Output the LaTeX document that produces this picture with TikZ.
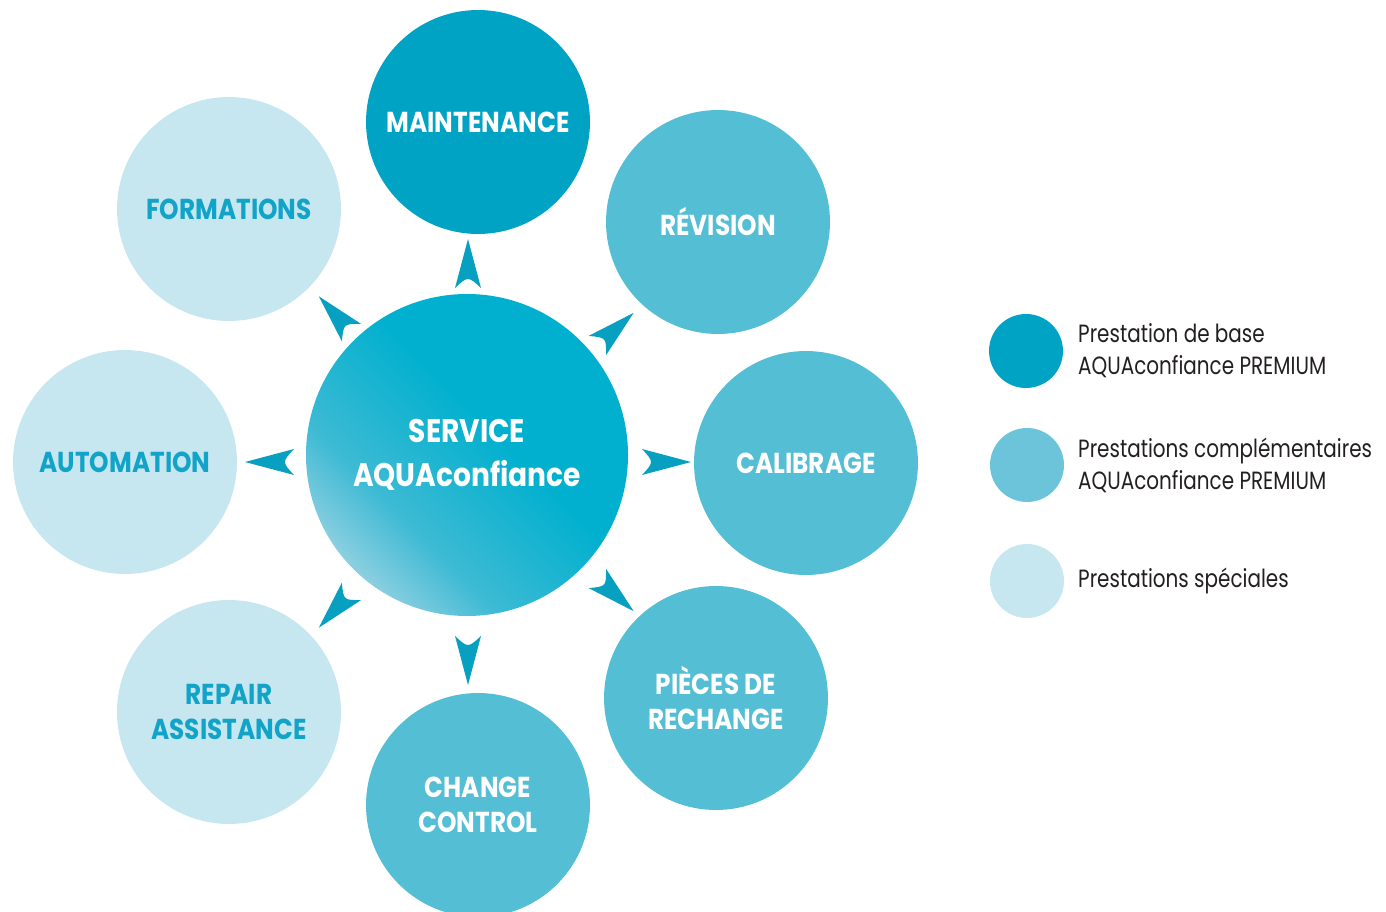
\documentclass[tikz,border=0pt]{standalone}
\usepackage{fontspec}
\setmainfont[FakeStretch=0.8]{Poppins}
\newfontfamily\lblfont[FakeStretch=0.86]{Poppins}
\usetikzlibrary{calc}
\definecolor{cdark}{HTML}{00A3C4}
\definecolor{cmed}{HTML}{54BED5}
\definecolor{cmedleg}{HTML}{6CC4DB}
\definecolor{clight}{HTML}{C6E7EF}
\definecolor{ctxtlight}{HTML}{12A3C8}
\definecolor{carrow}{HTML}{08A0C0}
\definecolor{cctrdark}{HTML}{00B0CE}
\definecolor{cctrmid}{HTML}{3DBAD4}
\definecolor{cctrlight}{HTML}{8CCFE0}
\definecolor{clegtxt}{HTML}{231F20}
\pgfdeclarehorizontalshading{centershade}{100bp}{color(0bp)=(cctrlight); color(25bp)=(cctrlight); color(36bp)=(cctrmid); color(56bp)=(cctrdark); color(100bp)=(cctrdark)}
\tikzset{
  bubble/.style={circle, inner sep=0pt, minimum size=4.48cm, align=center, font=\lblfont\bfseries\fontsize{16.4}{19.9}\selectfont},
  basecirc/.style={bubble, fill=cdark, text=white},
  medcirc/.style={bubble, fill=cmed, text=white},
  lightcirc/.style={bubble, fill=clight, text=ctxtlight},
  legdot/.style={circle, inner sep=0pt, minimum size=1.48cm},
  legtext/.style={anchor=west, align=left, text=clegtxt, font=\fontsize{14.2}{18.1}\selectfont},
  arrowhd/.style={fill=carrow, draw=none}
}
\begin{document}
\begin{tikzpicture}[x=0.02cm, y=-0.02cm]
\useasboundingbox (0,0) rectangle (1386,912);
% outer circles
\node[basecirc] (maint) at (478,122) {MAINTENANCE};
\node[medcirc] (rev) at (718,222) {RÉVISION};
\node[medcirc] (cal) at (806,463) {CALIBRAGE};
\node[medcirc] (pieces) at (716,698) {PIÈCES DE\\RECHANGE};
\node[medcirc] (change) at (478,805) {CHANGE\\CONTROL};
\node[lightcirc] (repair) at (229,712) {REPAIR\\ASSISTANCE};
\node[lightcirc] (auto) at (125,462) {AUTOMATION};
\node[lightcirc] (form) at (229,209) {FORMATIONS};
% center circle
\shade[shading=centershade, shading angle=45] (467,455) circle[radius=161];
\node[circle, inner sep=0pt, minimum size=6.44cm, align=center, text=white,
      font=\lblfont\bfseries\fontsize{18.6}{25}\selectfont] (svc) at (467,455) {SERVICE\\AQUAconfiance};
% arrowheads
\foreach \a in {90,42,0,-42,-90,228,180,132}{
  \fill[arrowhd, shift={($(svc.center)+(1,7)$)}, rotate=\a]
    (174,-13) .. controls (186,0) .. (174,13) -- (223,0) -- cycle;
}
% legend
\node[legdot, fill=cdark] (l1) at (1026,351) {};
\node[legdot, fill=cmedleg] (l2) at (1027,465) {};
\node[legdot, fill=clight] (l3) at (1027,581) {};
\node[legtext] (t1) at (1072,351) {Prestation de base\\AQUAconfiance PREMIUM};
\node[legtext] (t2) at (1072,465) {Prestations complémentaires\\AQUAconfiance PREMIUM};
\node[legtext] (t3) at (1072,581) {Prestations spéciales};
\end{tikzpicture}
\end{document}
